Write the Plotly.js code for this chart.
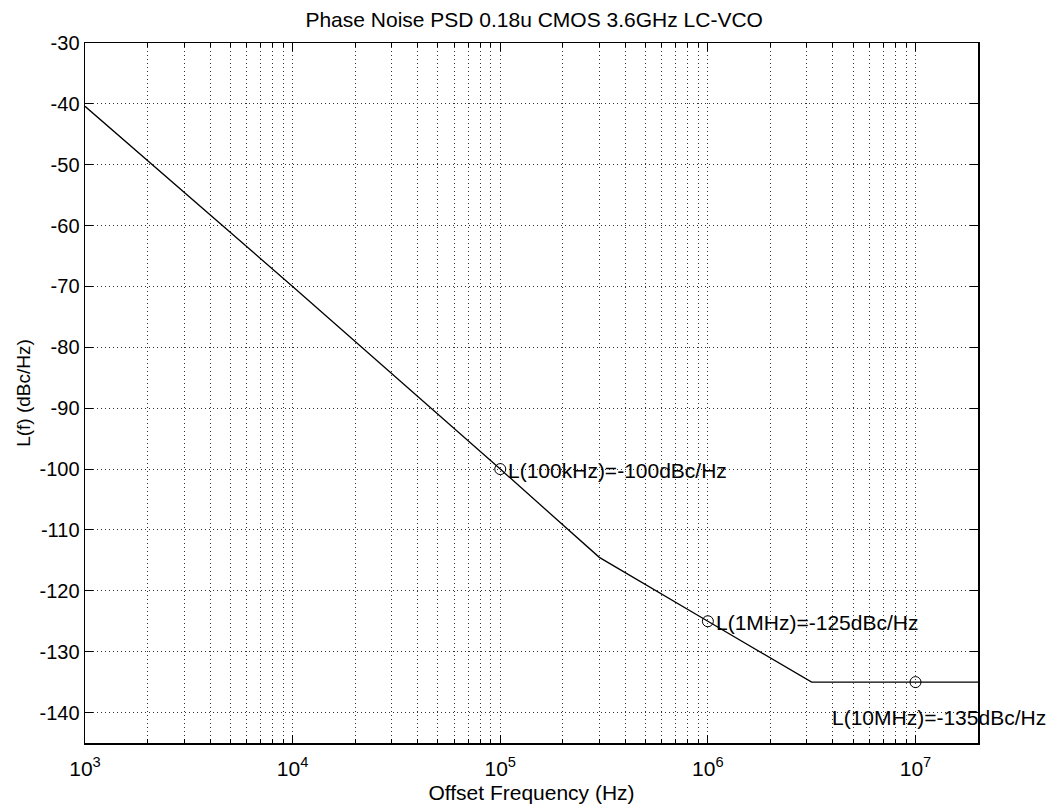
<!DOCTYPE html>
<html>
<head>
<meta charset="utf-8">
<script src="https://cdn.plot.ly/plotly-3.0.1.min.js"></script>
<style>
  html, body { margin: 0; padding: 0; background: #fff; }
  #plot { width: 1057px; height: 806px; }
</style>
</head>
<body>
<div id="plot"></div>
<script>
// Piecewise phase-noise profile: 1/f^3 region, 1/f^2 region, then the noise floor
const offsetFreq = [1e3, 1e4, 1e5, 3e5, 1e6, 3.16e6, 1e7, 2e7];
const phaseNoise = [-40.4, -70, -100, -114.5, -125, -135, -135, -135];

// Spot values marked on the curve
const spotFreq = [1e5, 1e6, 1e7];
const spotNoise = [-100, -125, -135];
const spotLabels = ['L(100kHz)=-100dBc/Hz', 'L(1MHz)=-125dBc/Hz', 'L(10MHz)=-135dBc/Hz'];

// Axis ticks
const decadeTicks = [1e3, 1e4, 1e5, 1e6, 1e7];
const decadeLabels = ['10<sup>3</sup>', '10<sup>4</sup>', '10<sup>5</sup>', '10<sup>6</sup>', '10<sup>7</sup>'];
const yTicks = [-30, -40, -50, -60, -70, -80, -90, -100, -110, -120, -130, -140];
const yTickLabels = ['-30', '-40', '-50', '-60', '-70', '-80', '-90', '-100', '-110', '-120', '-130', '-140'];

// intermediate 2..9 x 10^n grid positions
const minorTicks = [];
for (let e = 3; e <= 7; e++) {
  for (let m = 2; m <= 9; m++) {
    const v = m * Math.pow(10, e);
    if (v <= 2e7) minorTicks.push(v);
  }
}

const FONT = 'Liberation Sans, Arial, Helvetica, sans-serif';

const traces = [
  {
    x: offsetFreq, y: phaseNoise, type: 'scatter', mode: 'lines',
    line: { color: '#000', width: 1.3 }, hoverinfo: 'skip'
  },
  {
    x: spotFreq, y: spotNoise, type: 'scatter', mode: 'markers',
    marker: { symbol: 'circle-open', size: 11, color: '#000', line: { width: 1, color: '#000' } },
    hoverinfo: 'skip', cliponaxis: false
  }
];

const annotations = spotLabels.map((txt, i) => {
  const last = i === spotLabels.length - 1;
  return {
    x: Math.log10(spotFreq[i]), y: spotNoise[i], xref: 'x', yref: 'y',
    text: txt, showarrow: false,
    xanchor: 'left', yanchor: 'middle',
    xshift: last ? -86 : 6, yshift: last ? -35 : -1,
    font: { family: FONT, size: 21, color: '#000' }
  };
});

const gridStyle = { gridcolor: '#333', gridwidth: 1, griddash: '1px,3px' };

const layout = {
  width: 1057, height: 806,
  margin: { l: 85, r: 79, t: 43, b: 63 },
  paper_bgcolor: '#fff', plot_bgcolor: '#fff',
  showlegend: false,
  font: { family: FONT, size: 20, color: '#000' },
  title: {
    text: 'Phase Noise PSD 0.18u CMOS 3.6GHz LC-VCO',
    font: { family: FONT, size: 21, color: '#000' },
    x: 0.503, xanchor: 'center', xref: 'paper',
    y: 0.976, yanchor: 'middle', yref: 'container'
  },
  xaxis: Object.assign({
    type: 'log', range: [3, Math.log10(2e7)],
    tickmode: 'array', tickvals: decadeTicks, ticktext: decadeLabels,
    ticks: 'inside', ticklen: 8, tickwidth: 1, tickcolor: '#000',
    ticklabelstandoff: 6,
    showline: true, linecolor: '#000', linewidth: 1.5, mirror: 'ticks',
    showgrid: true, zeroline: false,
    tickfont: { family: FONT, size: 21, color: '#000' },
    title: { text: 'Offset Frequency (Hz)', font: { family: FONT, size: 21, color: '#000' }, standoff: 6 },
    minor: Object.assign({
      tickmode: 'array', tickvals: minorTicks,
      ticks: 'inside', ticklen: 4, tickwidth: 1, tickcolor: '#000',
      showgrid: true
    }, gridStyle)
  }, gridStyle),
  yaxis: Object.assign({
    range: [-145, -30],
    tickmode: 'array', tickvals: yTicks, ticktext: yTickLabels,
    ticks: 'inside', ticklen: 8, tickwidth: 1, tickcolor: '#000',
    showline: true, linecolor: '#000', linewidth: 1.5, mirror: 'ticks',
    showgrid: true, zeroline: false,
    tickfont: { family: FONT, size: 20, color: '#000' },
    title: { text: 'L(f) (dBc/Hz)', font: { family: FONT, size: 19, color: '#000' }, standoff: 4 }
  }, gridStyle),
  annotations: annotations
};

Plotly.newPlot('plot', traces, layout, { staticPlot: true, displayModeBar: false });
</script>
</body>
</html>
